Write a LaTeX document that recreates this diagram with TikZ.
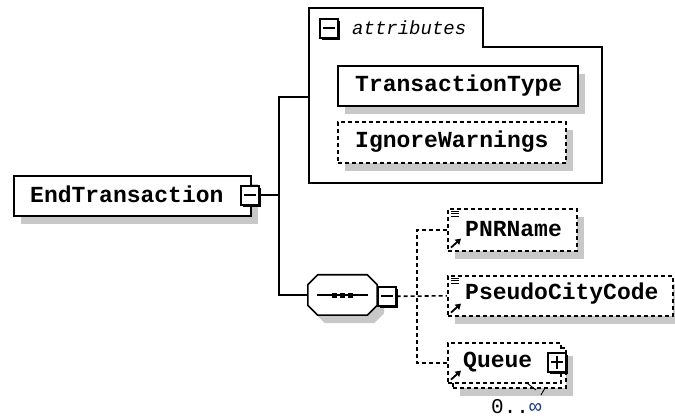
\documentclass[tikz,border=0pt]{standalone}
\usepackage{fontspec}
\newfontfamily\monofont{Liberation Mono}
\usetikzlibrary{shadows,arrows.meta}
\definecolor{shadowgray}{RGB}{200,200,200}
\definecolor{infblue}{RGB}{30,60,140}
\begin{document}
\begin{tikzpicture}[x=1pt,y=-1pt,
  lw/.style={line width=1.6pt},
  shad/.style={general shadow={fill=shadowgray, shadow xshift=7pt, shadow yshift=-8pt}},
  elbox/.style={draw, lw, fill=white, inner sep=0pt, anchor=north west, shad},
  optbox/.style={elbox, dash pattern=on 4pt off 3pt},
  lbl/.style={font=\monofont\bfseries\fontsize{23}{24}\selectfont, inner sep=0pt, anchor=base west},
  tog/.style={draw, lw, fill=white, inner sep=0pt, anchor=north west, minimum width=18pt, minimum height=19pt,
    general shadow={fill=black, shadow xshift=2.5pt, shadow yshift=-2.5pt}},
  conn/.style={lw},
  dconn/.style={lw, dash pattern=on 4pt off 3pt},
  icon/.style={line width=0.9pt},
]
\fill[white] (0,0) rectangle (675,419);
\useasboundingbox (0,0) rectangle (675,419);

% attributes container
\draw[lw] (309,183) -- (309,8) -- (483,8) -- (483,47) -- (602,47) -- (602,183) -- cycle;
\coordinate (attrL) at (309,97);
\node[tog] (attm) at (319,18) {};
\draw[lw] ([xshift=4pt]attm.west) -- ([xshift=-4pt]attm.east);
\node[font=\monofont\itshape\fontsize{19}{20}\selectfont, inner sep=0pt, anchor=base west] (attrlbl) at (352,35) {attributes};

\node[elbox, minimum width=240pt, minimum height=40pt] (tt) at (337,65) {};
\node[lbl] (ttl) at (355,92) {TransactionType};
\node[optbox, minimum width=228pt, minimum height=41pt] (iw) at (337,121) {};
\node[lbl] (iwl) at (355,148) {IgnoreWarnings};

% root element
\node[elbox, minimum width=237pt, minimum height=40pt] (et) at (13,175) {};
\node[lbl] (etl) at (30,203) {EndTransaction};
\node[tog] (etm) at (240,185) {};
\draw[lw] ([xshift=4pt]etm.west) -- ([xshift=-4pt]etm.east);

% sequence compositor (octagon)
\node[inner sep=0pt, minimum width=69pt, minimum height=40pt] (seq) at (342.5,295) {};
\fill[shadowgray, transform canvas={shift={(7pt,-8pt)}}]
  ([xshift=10pt]seq.north west) -- ([xshift=-10pt]seq.north east) -- ([yshift=-10pt]seq.north east)
  -- ([yshift=10pt]seq.south east) -- ([xshift=-10pt]seq.south east) -- ([xshift=10pt]seq.south west)
  -- ([yshift=10pt]seq.south west) -- ([yshift=-10pt]seq.north west) -- cycle;
\draw[lw, fill=white]
  ([xshift=10pt]seq.north west) -- ([xshift=-10pt]seq.north east) -- ([yshift=-10pt]seq.north east)
  -- ([yshift=10pt]seq.south east) -- ([xshift=-10pt]seq.south east) -- ([xshift=10pt]seq.south west)
  -- ([yshift=10pt]seq.south west) -- ([yshift=-10pt]seq.north west) -- cycle;
\draw[lw] ([xshift=9pt]seq.west) -- ([xshift=-9pt]seq.east);
\fill (332,293) rectangle (337,298);
\fill (340,293) rectangle (345,298);
\fill (348,293) rectangle (353,298);
\node[tog] (seqm) at (377,286) {};
\draw[lw] ([xshift=4pt]seqm.west) -- ([xshift=-4pt]seqm.east);

% connectors from root
\coordinate (j1) at (279,97);
\coordinate (j2) at (seq.west -| j1);
\draw[conn] (etm.east) -- (etm.east -| j1);
\draw[conn] (attrL) -- (j1) -- (j2) -- (seq.west);

% children
\node[optbox, minimum width=129pt, minimum height=42pt] (pnr) at (447,208) {};
\node[lbl] (pnrl) at (465,237) {PNRName};
\node[optbox, minimum width=225pt, minimum height=40pt] (pcc) at (447,275) {};
\node[lbl] (pccl) at (465,300) {PseudoCityCode};
\node[optbox, minimum width=113pt, minimum height=40pt] (qb) at (452,347) {};
\node[draw, lw, dash pattern=on 4pt off 3pt, fill=white, inner sep=0pt, anchor=north west,
  minimum width=113pt, minimum height=40pt] (q) at (447,342) {};
\node[lbl] (ql) at (463,368) {Queue};
\node[tog] (qp) at (547,352) {};
\draw[lw] ([xshift=4pt]qp.west) -- ([xshift=-4pt]qp.east);
\draw[lw] ([yshift=-4pt]qp.north) -- ([yshift=4pt]qp.south);
\draw[icon] (527,383) -- (536,390);
\draw[icon] (541,395) -- (545,388);
\node[font=\monofont\fontsize{21}{21}\selectfont, inner sep=0pt, anchor=base west] (mult) at (491,414) {0..\textcolor{infblue}{∞}};

% icons
\foreach \n in {pnr,pcc}{
  \draw[icon] ([xshift=4pt,yshift=-3pt]\n.north west) -- ++(8,0);
  \draw[icon] ([xshift=4pt,yshift=-5.5pt]\n.north west) -- ++(8,0);
  \draw[icon] ([xshift=4pt,yshift=-8pt]\n.north west) -- ++(8,0);
}
\foreach \n in {pnr,pcc,q}{
  \draw[line width=1.8pt, -{Triangle[length=5.5pt,width=6.5pt]}] ([xshift=4pt,yshift=4pt]\n.south west) -- ++(10,-9);
}

% dashed connectors of sequence
\coordinate (bus) at (417,0);
\draw[dconn] (seqm.east) -- (pcc.west);
\draw[dconn] (pnr.west) -- (pnr.west -| bus) -- (q.west -| bus) -- (q.west);
\end{tikzpicture}
\end{document}
